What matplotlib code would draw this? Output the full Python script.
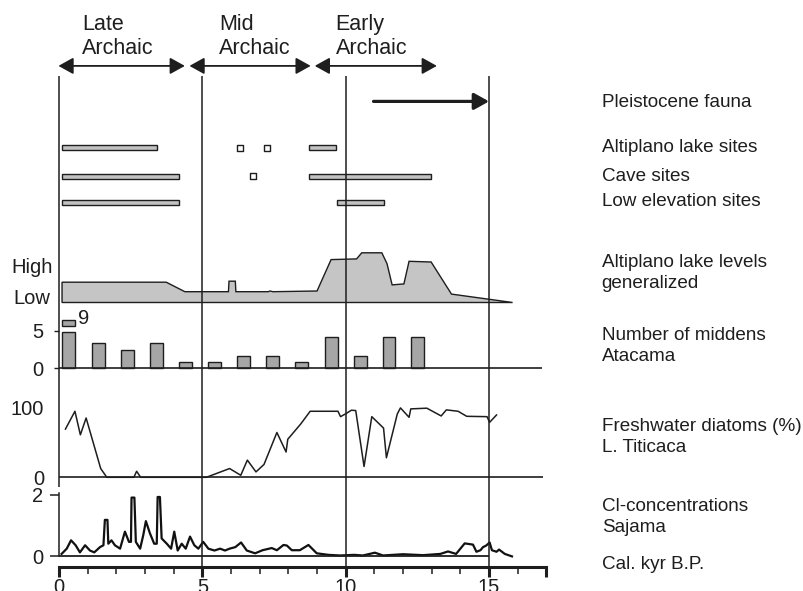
import numpy as np
import matplotlib
matplotlib.use('Agg')
import matplotlib.pyplot as plt
from matplotlib.patches import FancyArrowPatch

plt.rcParams['font.family'] = ['Liberation Sans', 'DejaVu Sans']

# --- donnees (ages en kyr cal. B.P.) ---
periods = ['Late', 'Mid', 'Early']
period_start = [-0.02, 4.55, 8.92]
period_end = [4.39, 8.78, 13.18]
period_label_x = [0.80, 5.59, 9.65]

fauna_start, fauna_end = 10.97, 15.0

lake_site_start = [0.10, 8.72]
lake_site_end = [3.43, 9.67]
lake_site_points = [6.32, 7.27]
cave_site_start = [0.10, 8.72]
cave_site_end = [4.18, 12.98]
cave_site_points = [6.76]
low_site_start = [0.10, 9.70]
low_site_end = [4.18, 11.32]

# niveau relatif des lacs (unites arbitraires)
lake_age = [0.106, 3.74, 4.39, 5.91, 5.93, 6.15, 6.17, 7.30, 7.36, 7.46, 9.0,
            9.49, 10.38, 10.56, 11.26, 11.44, 11.62, 12.03, 12.21, 12.98, 13.69, 15.82]
lake_level = [20.3, 20.3, 10.8, 10.8, 21.3, 21.3, 10.8, 10.8, 11.5, 10.8, 11.5,
              42.9, 43.6, 49.7, 49.7, 38.9, 17.6, 18.6, 41.2, 40.5, 8.4, 0.0]

midden_age = [0.34, 1.38, 2.38, 3.40, 4.41, 5.43, 6.44, 7.45, 8.47, 9.50, 10.51, 11.51, 12.52]
midden_count = [9, 3.3, 2.45, 3.3, 0.78, 0.78, 1.57, 1.57, 0.78, 4.1, 1.65, 4.1, 4.1]
midden_cap = 4.8

diatom_age = [0.225, 0.556, 0.745, 0.946, 1.454, 1.667, 2.612, 2.707, 2.849, 5.14,
              5.95, 6.34, 6.57, 6.87, 7.15, 7.60, 7.92, 7.98, 8.43, 8.76, 9.73,
              9.82, 9.99, 10.20, 10.35, 10.64, 10.91, 11.32, 11.42, 11.80, 11.91,
              12.21, 12.27, 12.83, 13.33, 13.51, 13.92, 14.22, 14.93, 15.02, 15.26]
diatom_pct = [68.8, 94.2, 60.6, 84.6, 12.5, 0, 0, 8.6, 0, 0,
              12.5, 2.9, 24.5, 7.7, 18.3, 63.9, 36.1, 54.3, 76.0, 94.2, 94.2,
              86.5, 90.4, 95.7, 95.2, 15.4, 86.5, 70.2, 27.9, 90.4, 99.0,
              85.6, 97.6, 98.6, 87.5, 96.2, 94.2, 87.0, 86.5, 78.4, 88.9]

cl_age = [0.09, 0.27, 0.42, 0.58, 0.73, 0.91, 1.08, 1.23, 1.43, 1.55, 1.60, 1.69, 1.72,
          1.83, 1.95, 2.13, 2.30, 2.44, 2.51, 2.53, 2.63, 2.68, 2.83, 2.94, 3.03, 3.17,
          3.32, 3.41, 3.44, 3.52, 3.58, 3.76, 3.91, 4.02, 4.14, 4.28, 4.42, 4.57, 4.72,
          4.86, 5.03, 5.21, 5.42, 5.62, 5.79, 5.95, 6.15, 6.35, 6.55, 6.84, 7.10, 7.42,
          7.60, 7.83, 7.95, 8.12, 8.40, 8.70, 8.99, 9.40, 9.80, 10.30, 10.60, 11.02,
          11.30, 12.00, 12.70, 13.30, 13.57, 13.85, 14.15, 14.30, 14.44, 14.56, 14.70,
          14.79, 14.90, 15.02, 15.10, 15.26, 15.35, 15.55, 15.80]
cl_val = [0.08, 0.25, 0.52, 0.36, 0.13, 0.36, 0.19, 0.13, 0.30, 0.36, 1.18, 1.18, 0.41,
          0.52, 0.36, 0.25, 0.80, 0.47, 0.47, 1.90, 1.90, 0.47, 0.25, 0.69, 1.14, 0.75,
          0.41, 0.41, 1.92, 1.92, 0.58, 0.41, 0.25, 0.80, 0.19, 0.41, 0.25, 0.64, 0.36,
          0.25, 0.47, 0.25, 0.19, 0.25, 0.19, 0.25, 0.30, 0.45, 0.19, 0.10, 0.20, 0.27,
          0.20, 0.37, 0.35, 0.20, 0.20, 0.37, 0.10, 0.05, 0.03, 0.05, 0.03, 0.12,
          0.03, 0.07, 0.04, 0.08, 0.16, 0.08, 0.42, 0.40, 0.38, 0.15, 0.20,
          0.30, 0.35, 0.45, 0.20, 0.15, 0.22, 0.08, 0.0]

right_labels = [
    ('Pleistocene fauna', 107.3),
    ('Altiplano lake sites', 151.7),
    ('Cave sites', 181.0),
    ('Low elevation sites', 206.0),
    ('Altiplano lake levels', 266.7),
    ('generalized', 287.5),
    ('Number of middens', 339.5),
    ('Atacama', 361.0),
    ('Freshwater diatoms (%)', 431.0),
    ('L. Titicaca', 452.0),
    ('Cl-concentrations', 510.7),
    ('Sajama', 532.5),
    ('Cal. kyr B.P.', 569.0),
]

# --- mise en page (pixels de la figure) ---
W, H = 804, 591
X0_PX, PX_PER_KYR = 59, 28.67
XLIM = (-X0_PX / PX_PER_KYR, (W - X0_PX) / PX_PER_KYR)
INK = '#1e1e1e'
TICK_FS = 14.5

fig = plt.figure(figsize=(W / 100, H / 100), dpi=100)
fig.patch.set_facecolor('white')


def fx(px):
    return px / W


def fy(py):
    return 1 - py / H


def panel(top, bot, p0, v0, p1, v1):
    # axes sur toute la largeur, echelle y calee sur deux reperes en pixels
    ax = fig.add_axes([0, fy(bot), 1, (bot - top) / H])
    k = (v1 - v0) / (p1 - p0)
    ax.set_ylim(v0 + (bot - p0) * k, v0 + (top - p0) * k)
    ax.set_xlim(XLIM)
    ax.patch.set_visible(False)
    for s in ax.spines.values():
        s.set_visible(False)
    ax.set_xticks([])
    ax.set_yticks([])
    return ax


# Periodes, faune, sites
ax_top = panel(0, 225, 0, 0, 225, 225)
ARROW_Y, FAUNA_Y = 65.9, 101.4
for name, x0, x1, lx in zip(periods, period_start, period_end, period_label_x):
    ax_top.add_patch(FancyArrowPatch((x0, ARROW_Y), (x1, ARROW_Y),
                                     arrowstyle='<|-|>,head_length=0.45,head_width=0.25',
                                     mutation_scale=20, lw=1.3, color=INK,
                                     shrinkA=0, shrinkB=0))
    ax_top.text(lx, 30.4, name, fontsize=15.5, va='baseline', color=INK)
    ax_top.text(lx, 54.0, 'Archaic', fontsize=15.5, va='baseline', color=INK)

ax_top.add_patch(FancyArrowPatch((fauna_start, FAUNA_Y), (fauna_end, FAUNA_Y),
                                 arrowstyle='-|>,head_length=0.45,head_width=0.25',
                                 mutation_scale=20, lw=2.3, color=INK,
                                 shrinkA=0, shrinkB=0))

site_rows = [
    (147.6, lake_site_start, lake_site_end, lake_site_points),
    (176.0, cave_site_start, cave_site_end, cave_site_points),
    (202.4, low_site_start, low_site_end, []),
]
for y, starts, ends, pts in site_rows:
    ax_top.barh([y] * len(starts), np.array(ends) - np.array(starts), left=starts,
                height=5, color='#c2c2c2', edgecolor=INK, lw=1.0)
    if pts:
        ax_top.scatter(pts, [y] * len(pts), marker='s', s=16, facecolor='white',
                       edgecolor=INK, lw=1.0, zorder=3)

# Niveaux des lacs
ax_lake = panel(235, 310, 302.5, 0, 252.5, 50)
ax_lake.fill(np.r_[lake_age[0], lake_age], np.r_[0, lake_level],
             facecolor='#c5c5c5', edgecolor=INK, lw=1.0)
fig.text(fx(53), fy(272.5), 'High', ha='right', va='baseline', fontsize=TICK_FS, color=INK)
fig.text(fx(50), fy(304), 'Low', ha='right', va='baseline', fontsize=TICK_FS, color=INK)

# Middens
ax_mid = panel(310, 372, 368.4, 0, 330.5, 5)
shown = [min(c, midden_cap) for c in midden_count]
ax_mid.bar(midden_age, shown, width=0.45, color='#a6a6a6', edgecolor=INK, lw=1.0)
for x, c in zip(midden_age, midden_count):
    if c > midden_cap:
        ax_mid.bar(x, 0.85, bottom=5.55, width=0.45, color='#a6a6a6', edgecolor=INK, lw=1.0)
        ax_mid.text(x + 0.31, 6.6, str(int(c)), fontsize=TICK_FS, va='center', color=INK)
ax_mid.hlines(0, 0, 16.85, color=INK, lw=1.2)
ax_mid.spines['left'].set_visible(True)
ax_mid.spines['left'].set_linewidth(0)
ax_mid.spines['left'].set_position(('data', 0))
ax_mid.set_yticks([0, 5])
ax_mid.tick_params(axis='y', length=3.6, width=1.0, pad=8, labelsize=TICK_FS,
                   color=INK, labelcolor=INK)

# Diatomees
ax_dia = panel(372, 488, 477.3, 0, 407.2, 100)
ax_dia.plot(diatom_age, diatom_pct, color=INK, lw=1.1)
ax_dia.hlines(0, 0, 16.87, color=INK, lw=1.2)
ax_dia.spines['left'].set_visible(True)
ax_dia.spines['left'].set_linewidth(0)
ax_dia.spines['left'].set_position(('data', 0))
ax_dia.set_yticks([0, 100])
ax_dia.tick_params(axis='y', length=0, pad=10.8, labelsize=TICK_FS, labelcolor=INK)

# Chlorures Sajama + axe des ages
ax_cl = panel(488, 591, 556.4, 0, 494.5, 2)
ax_cl.plot(cl_age, cl_val, color='#111111', lw=1.6, solid_joinstyle='round')
ax_cl.hlines(0, 0, 15, color=INK, lw=1.3)
ax_cl.spines['left'].set_visible(True)
ax_cl.spines['left'].set_position(('data', 0))
ax_cl.spines['left'].set_bounds(0, 2.05)
ax_cl.spines['left'].set_color(INK)
ax_cl.spines['left'].set_linewidth(1.1)
ax_cl.set_yticks([0, 2])
ax_cl.tick_params(axis='y', length=6.5, width=1.1, pad=5, labelsize=TICK_FS,
                  color=INK, labelcolor=INK)

ax_cl.spines['bottom'].set_visible(True)
ax_cl.spines['bottom'].set_position(('data', (566.5 - 556.4) * 2 / (494.5 - 556.4)))
ax_cl.spines['bottom'].set_bounds(0, 17)
ax_cl.spines['bottom'].set_linewidth(2.2)
ax_cl.spines['bottom'].set_color(INK)
ax_cl.set_xticks([0, 5, 10, 15, 17])
ax_cl.set_xticklabels(['0', '5', '10', '15', ''])
ax_cl.set_xticks([k for k in range(1, 17) if k % 5], minor=True)
ax_cl.tick_params(axis='x', which='major', length=7.5, width=2.2, pad=1,
                  labelsize=TICK_FS, color=INK, labelcolor=INK)
ax_cl.tick_params(axis='x', which='minor', length=5, width=1.1, color=INK)

# Lignes verticales (au-dessus de tout)
ax_bg = panel(0, 591, 0, 0, 591, 591)
ax_bg.set_zorder(10)
ax_bg.vlines([5, 10, 15], 76, 566.5, color=INK, lw=1.1)
ax_bg.vlines(0, 76, 487, color=INK, lw=1.1)

for text, base in right_labels:
    fig.text(fx(601.7), fy(base), text, fontsize=13.6, va='baseline', color=INK)

fig.savefig('out.png', dpi=100, facecolor='white')
